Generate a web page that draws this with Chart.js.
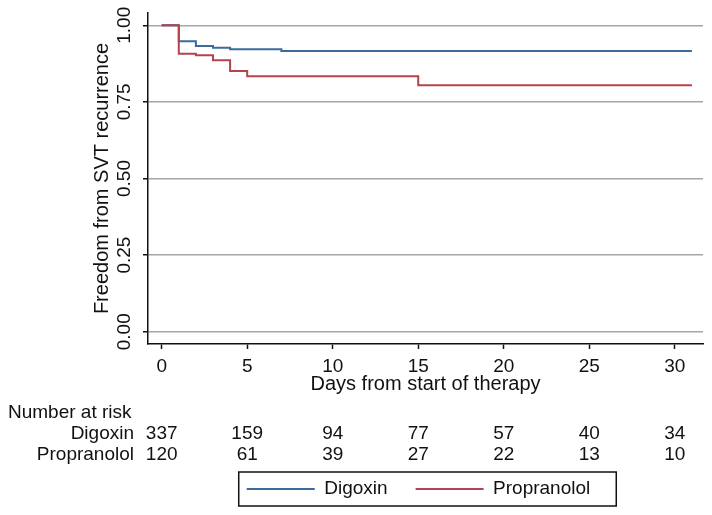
<!DOCTYPE html>
<html>
<head>
<meta charset="utf-8">
<script src="https://cdn.jsdelivr.net/npm/chart.js@4.4.1/dist/chart.umd.min.js"></script>
<style>
  html, body { margin: 0; padding: 0; background: #fff; }
  #wrap { width: 712px; height: 515px; }
</style>
</head>
<body>
<div id="wrap"><canvas id="kmChart" width="712" height="515"></canvas></div>
<script>
// Kaplan-Meier steps (day, survival)
const digoxinDays = [0, 1, 2, 3, 4, 7, 31];
const digoxinSurv = [1, 0.948, 0.932, 0.927, 0.922, 0.916, 0.916];
const propranololDays = [0, 1, 2, 3, 4, 5, 15, 31];
const propranololSurv = [1, 0.907, 0.902, 0.886, 0.851, 0.834, 0.804, 0.804];

const xTicks = [0, 5, 10, 15, 20, 25, 30];
const yTicks = [0, 0.25, 0.5, 0.75, 1];

// Number at risk table
const riskDays = [0, 5, 10, 15, 20, 25, 30];
const riskDigoxin = [337, 159, 94, 77, 57, 40, 34];
const riskPropranolol = [120, 61, 39, 27, 22, 13, 10];

const blue = '#3a6b9c';
const red = '#b5434d';
const textColor = '#111';

Chart.defaults.font.family = '"Liberation Sans", Arial, sans-serif';
Chart.defaults.color = textColor;

function toPoints(days, surv) {
    return days.map(function(d, i) { return {x: d, y: surv[i]}; });
}

// move legend to where the frame sits and draw the number-at-risk rows
const kmExtras = {
    id: 'kmExtras',
    afterLayout: function(chart) {
        const lg = chart.legend;
        const h = lg.bottom - lg.top;
        lg.top = 489 - 28 - 9.5;
        lg.bottom = lg.top + h;
        lg.left = 141;
        lg.right = 696;
        lg.width = lg.right - lg.left;
    },
    afterDraw: function(chart) {
        const ctx = chart.ctx;
        const xScale = chart.scales.x;
        ctx.save();
        ctx.fillStyle = textColor;
        ctx.font = '19px "Liberation Sans", Arial, sans-serif';
        ctx.textBaseline = 'middle';
        ctx.textAlign = 'left';
        ctx.fillText('Number at risk', 8, 413);
        ctx.textAlign = 'right';
        ctx.fillText('Digoxin', 134, 434);
        ctx.fillText('Propranolol', 134, 455);
        ctx.textAlign = 'center';
        riskDays.forEach(function(d, i) {
            const px = xScale.getPixelForValue(d);
            ctx.fillText(String(riskDigoxin[i]), px, 434);
            ctx.fillText(String(riskPropranolol[i]), px, 455);
        });

        // frame round the legend
        const boxes = chart.legend.legendHitBoxes;
        if (boxes && boxes.length) {
            const first = boxes[0];
            const last = boxes[boxes.length - 1];
            const cy = first.top + first.height / 2;
            ctx.strokeStyle = '#111';
            ctx.lineWidth = 1.5;
            ctx.strokeRect(first.left - 8, cy - 17, (last.left + last.width + 26) - (first.left - 8), 34);
        }
        ctx.restore();
    }
};

const ctx = document.getElementById('kmChart').getContext('2d');

new Chart(ctx, {
    type: 'line',
    data: {
        datasets: [
            {
                label: 'Digoxin',
                data: toPoints(digoxinDays, digoxinSurv),
                borderColor: blue,
                backgroundColor: blue,
                borderWidth: 2,
                stepped: 'before',
                pointRadius: 0,
                fill: false,
                order: 1
            },
            {
                label: 'Propranolol',
                data: toPoints(propranololDays, propranololSurv),
                borderColor: red,
                backgroundColor: red,
                borderWidth: 2,
                stepped: 'before',
                pointRadius: 0,
                fill: false,
                order: 0
            }
        ]
    },
    options: {
        responsive: false,
        animation: false,
        layout: {
            padding: { left: 0, right: 9, top: 13, bottom: 62 }
        },
        scales: {
            x: {
                type: 'linear',
                min: -0.8,
                max: 31.65,
                afterBuildTicks: function(scale) {
                    scale.ticks = xTicks.map(function(v) { return {value: v}; });
                },
                afterFit: function(scale) {
                    scale.height = 52;
                },
                grid: {
                    drawOnChartArea: false,
                    tickLength: 5,
                    tickColor: '#111',
                    tickWidth: 1.5
                },
                border: { color: '#111', width: 1.5 },
                ticks: {
                    font: { size: 19 },
                    padding: 6,
                    maxRotation: 0,
                    autoSkip: false
                },
                title: {
                    display: true,
                    text: 'Days from start of therapy',
                    font: { size: 20 },
                    padding: { top: 0, bottom: 0 }
                }
            },
            y: {
                min: -0.04,
                max: 1.04,
                afterBuildTicks: function(scale) {
                    scale.ticks = yTicks.map(function(v) { return {value: v}; });
                },
                afterFit: function(scale) {
                    scale.width = 148;
                },
                grid: {
                    color: '#a6a6a6',
                    lineWidth: 1.5,
                    tickLength: 5,
                    tickColor: '#111',
                    tickWidth: 1.5
                },
                border: { color: '#111', width: 1.5 },
                ticks: {
                    font: { size: 19 },
                    padding: 0,
                    minRotation: 90,
                    maxRotation: 90,
                    crossAlign: 'center',
                    callback: function(value) {
                        return value.toFixed(2);
                    }
                },
                title: {
                    display: true,
                    text: 'Freedom from SVT recurrence',
                    font: { size: 20 },
                    padding: { top: 90, bottom: 0 }
                }
            }
        },
        plugins: {
            legend: {
                position: 'bottom',
                fullSize: false,
                labels: {
                    usePointStyle: true,
                    pointStyle: 'line',
                    pointStyleWidth: 68,
                    padding: 28,
                    font: { size: 19 },
                    color: textColor,
                    sort: function(a, b) { return a.datasetIndex - b.datasetIndex; }
                }
            },
            tooltip: { enabled: false }
        }
    },
    plugins: [kmExtras]
});
</script>
</body>
</html>
